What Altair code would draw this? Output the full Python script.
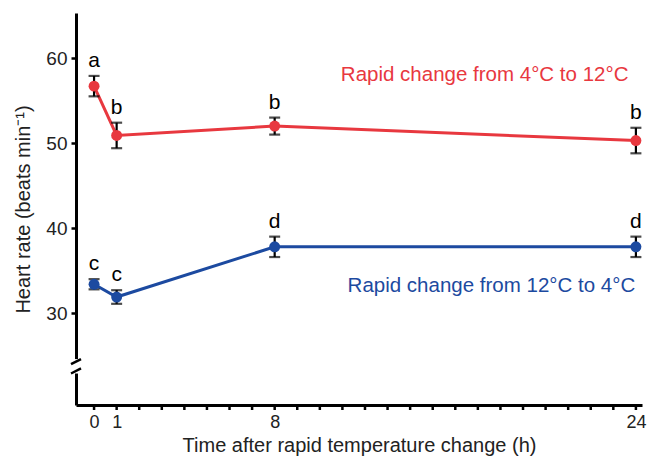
import altair as alt
import pandas as pd

hours = [0, 1, 8, 24]
warm_mean = [56.7, 50.9, 52.0, 50.3]
warm_err = [1.2, 1.5, 1.0, 1.5]
warm_letters = ["a", "b", "b", "b"]
cold_mean = [33.4, 31.9, 37.8, 37.8]
cold_err = [0.6, 0.8, 1.2, 1.2]
cold_letters = ["c", "c", "d", "d"]
series_names = ["Rapid change from 4°C to 12°C", "Rapid change from 12°C to 4°C"]
colors = ["#E8383F", "#1C4AA0"]
x_tick_values = list(range(0, 25))
x_label_values = [0, 1, 8, 24]
y_tick_values = [30, 40, 50, 60]

rows = []
for name, means, errs, lets in [(series_names[0], warm_mean, warm_err, warm_letters),
                                 (series_names[1], cold_mean, cold_err, cold_letters)]:
    for h, m, e, l in zip(hours, means, errs, lets):
        rows.append({"h": h, "mean": m, "lo": m - e, "hi": m + e, "letter": l, "series": name})
df = pd.DataFrame(rows)

W, H = 566, 392
ydom = [19.2, 65.3]
xdom = [-0.8, 24.27]
xs = alt.Scale(domain=xdom, nice=False, zero=False)
ys = alt.Scale(domain=ydom, nice=False, zero=False)
cs = alt.Scale(domain=series_names, range=colors)

XT = "Time after rapid temperature change (h)"
YT = "Heart rate (beats min⁻¹)"
xaxis = alt.Axis(title=XT, values=x_label_values, ticks=False,
                 grid=False, labelOverlap=False, labelBound=False)
yaxis = alt.Axis(title=YT, values=y_tick_values, grid=False, labelOverlap=False)


def X(field):
    return alt.X(field, type="quantitative", scale=xs, axis=xaxis)


def Y(field):
    return alt.Y(field, type="quantitative", scale=ys, axis=yaxis)


base = alt.Chart(df)
lines = base.mark_line(strokeWidth=3).encode(
    x=X("h"), y=Y("mean"),
    color=alt.Color("series:N", scale=cs, legend=None))
errs = base.mark_errorbar(ticks=alt.MarkConfig(size=11, color="black", strokeWidth=2.2),
                          color="black", thickness=2.2).encode(
    x=X("h"), y=Y("lo"), y2="hi:Q")
pts = base.mark_circle(size=120, opacity=1).encode(
    x=X("h"), y=Y("mean"),
    color=alt.Color("series:N", scale=cs, legend=None))
lets = base.mark_text(fontSize=21, font="Liberation Sans", color="black", baseline="bottom", dy=-5).encode(
    x=X("h"), y=Y("hi"), text="letter:N")

lab = pd.DataFrame({"h": [17.3, 17.6], "v": [58.0, 33.2], "t": series_names})
labels = alt.Chart(lab).mark_text(fontSize=20.5, font="Liberation Sans", baseline="middle").encode(
    x=X("h"), y=Y("v"), text="t:N",
    color=alt.Color("t:N", scale=cs, legend=None))

# hourly x-axis ticks
tk = pd.DataFrame({"h": x_tick_values})
xticks = alt.Chart(tk).mark_rule(color="black", strokeWidth=2.5).encode(
    x=X("h"), y=alt.value(H), y2=alt.value(H + 5))

# axis break
brk = pd.DataFrame({"y1": [22.9], "y2": [24.6]})
gap = alt.Chart(brk).mark_rect(color="white").encode(
    x=alt.value(-3), x2=alt.value(3), y=Y("y1"), y2="y2:Q")
sl = pd.DataFrame({"a": [22.9, 24.0], "b": [23.5, 24.6]})
slashes = alt.Chart(sl).mark_rule(color="black", strokeWidth=2.4).encode(
    x=alt.value(-5), x2=alt.value(5), y=Y("a"), y2="b:Q")

chart = alt.layer(lines, errs, pts, lets, labels, xticks, gap, slashes).properties(
    width=W, height=H,
    autosize=alt.AutoSizeParams(type="none"),
    padding={"left": 68, "top": 5, "right": 5, "bottom": 55},
).configure_view(stroke=None).configure_axis(
    domainColor="black", domainWidth=3, tickColor="black", tickWidth=2.5, tickSize=5,
    labelFont="Liberation Sans", titleFont="Liberation Sans", labelColor="#222",
    titleColor="#222", titleFontWeight="normal", labelFontSize=19, titleFontSize=20
).configure_axisY(titlePadding=12, labelPadding=4).configure_axisX(labelPadding=8, titlePadding=4, labelFontSize=18)

chart.save("out.html", embed_options={"renderer": "svg", "actions": False})
